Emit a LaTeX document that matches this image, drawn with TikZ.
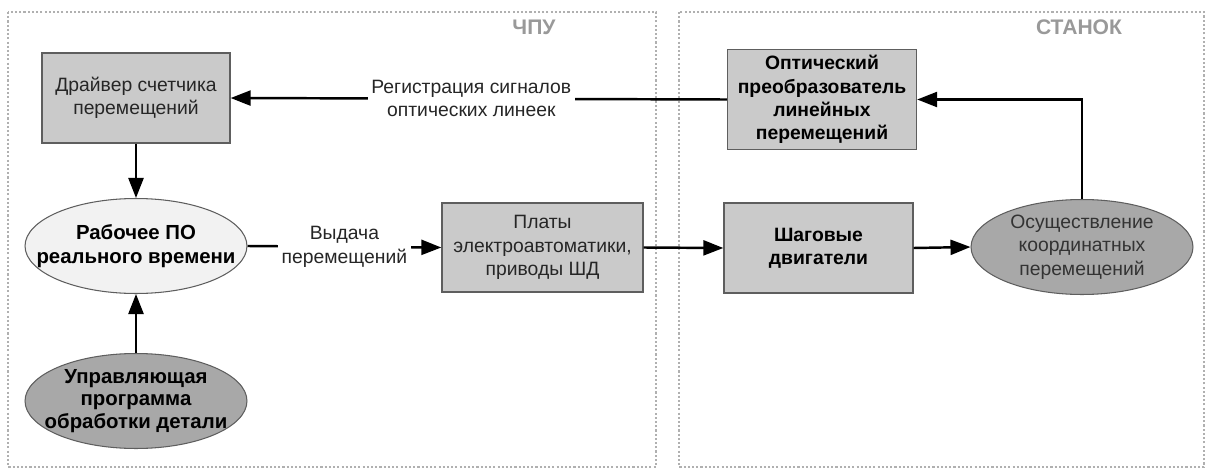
\documentclass[tikz,border=0pt]{standalone}
\usepackage{fontspec}
\setmainfont{Liberation Sans}
\usetikzlibrary{shapes.geometric,arrows.meta}
\definecolor{boxgray}{HTML}{CACACA}
\definecolor{darkell}{HTML}{A8A8A8}
\definecolor{lightell}{HTML}{F2F2F2}
\definecolor{edgegray}{HTML}{5E5E5E}
\definecolor{framegray}{HTML}{B0B0B0}
\definecolor{titlegray}{HTML}{999999}

\begin{document}
\begin{tikzpicture}[x=0.02cm, y=-0.02cm, font=\fontsize{11}{13.3}\selectfont,
  box/.style={draw=edgegray, fill=boxgray, line width=0.8pt, align=center, text=black!85},
  ell/.style={draw=edgegray, ellipse, line width=0.6pt, inner sep=0pt, minimum width=4.44cm, minimum height=1.9cm},
  arr/.style={-{Triangle[length=0.4cm, width=0.3cm]}, line width=1.4pt},
  lbl/.style={fill=white, align=center, inner sep=2pt, text=black!85},
  frame/.style={draw=framegray, line width=0.6pt, dash pattern=on 1.2pt off 1.2pt},
  title/.style={font=\fontsize{12}{14}\selectfont\bfseries, text=titlegray}]
\useasboundingbox (0,0) rectangle (1208,470);
% frames
\draw[frame] (8,12) rectangle (656,467);
\draw[frame] (679,12) rectangle (1204,467);
\node[title] (cnc) at (534,27) {ЧПУ};
\node[title] (mach) at (1079,27) {СТАНОК};
% boxes
\node[box, minimum width=3.76cm, minimum height=1.8cm] (drv) at (136,98) {Драйвер счетчика\\перемещений};
\node[box, minimum width=3.78cm, minimum height=1.86cm, font=\fontsize{11}{13.2}\selectfont\bfseries, text=black] (opt) at (822,99.5) {Оптический\\преобразователь\\линейных\\перемещений};
\node[box, minimum width=4.02cm, minimum height=1.78cm] (plt) at (542.5,247.5) {Платы\\электроавтоматики,\\приводы ШД};
\node[box, minimum width=3.78cm, minimum height=1.8cm, font=\fontsize{11}{13.3}\selectfont\bfseries, text=black] (shg) at (818.5,248) {Шаговые\\двигатели};
% ellipses
\node[ell, fill=lightell, label={[align=center, font=\fontsize{11.6}{13.6}\selectfont\bfseries]center:Рабочее ПО\\реального времени}] (rt) at (136,246) {};
\node[ell, fill=darkell, label={[align=center, font=\fontsize{11.6}{13}\selectfont\bfseries]center:Управляющая\\программа\\обработки детали}] (prog) at (136,401) {};
\node[ell, fill=darkell, label={[align=center, text=black!80]center:Осуществление\\координатных\\перемещений}] (move) at (1082,247) {};
% connectors
\draw[arr] (opt.west) -- node[lbl, pos=0.515] {Регистрация сигналов\\оптических линеек} (drv.east);
\draw[arr] (drv.south) -- (rt.north);
\draw[arr] (prog.north) -- (rt.south);
\draw[arr] (rt.east) -- node[lbl] {Выдача\\перемещений} (plt.west);
\draw[arr] (plt.east) -- (shg.west);
\draw[arr] (shg.east) -- (move.west);
\draw[arr] (move.north) |- (opt.east);
\end{tikzpicture}
\end{document}
